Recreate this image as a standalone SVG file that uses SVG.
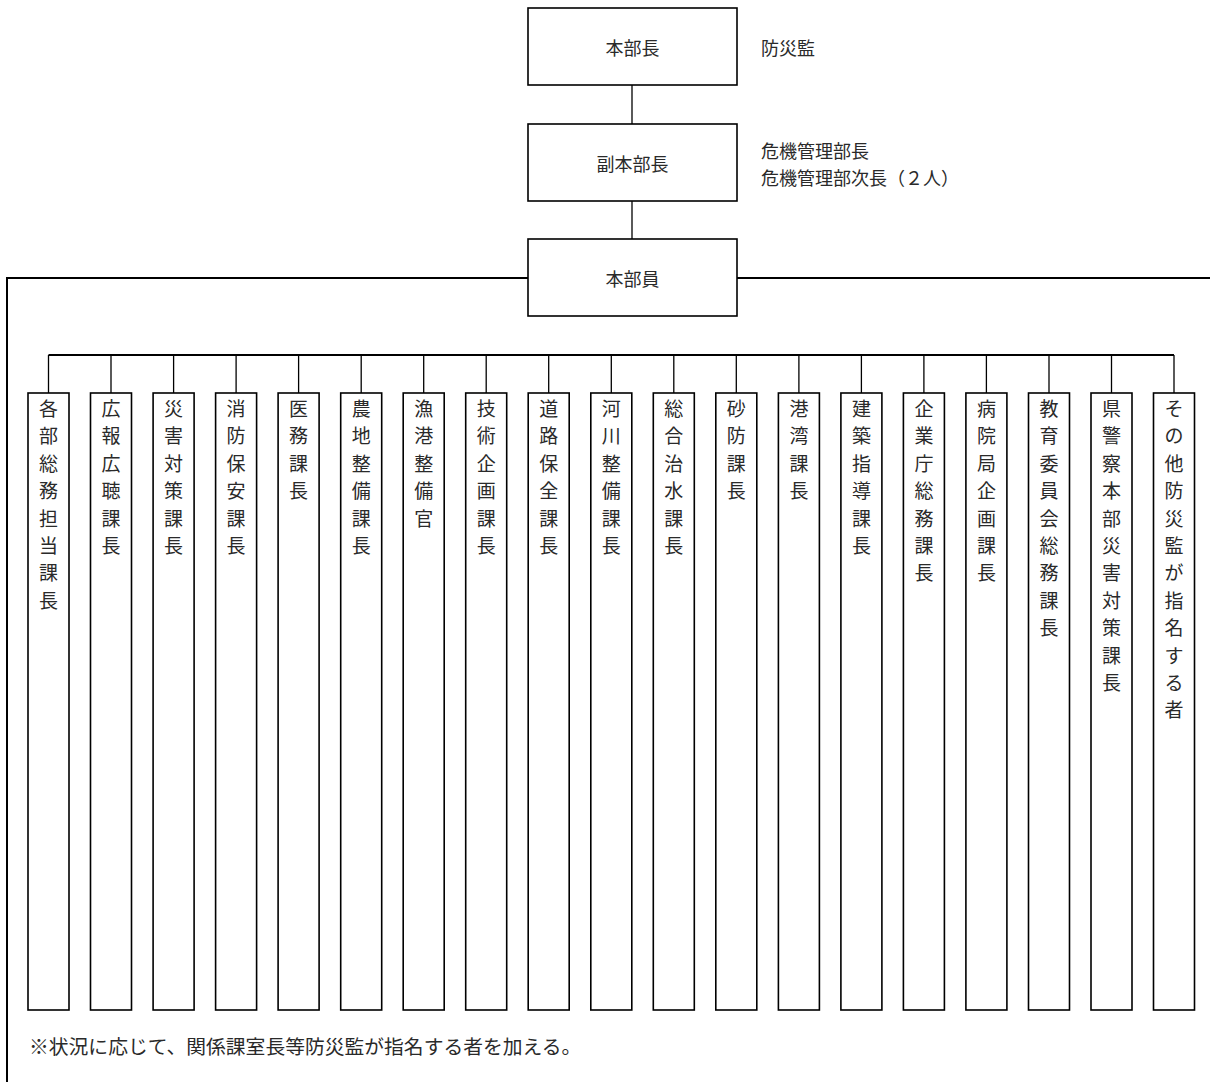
<svg xmlns="http://www.w3.org/2000/svg" width="1210" height="1082" viewBox="0 0 1210 1082">
<style>
text{font-family:"Noto Sans CJK JP","Noto Sans CJK SC",sans-serif;fill:#2a2a2a;}
.lbl{font-size:18px;text-anchor:middle;dominant-baseline:central;}
.side{font-size:18px;dominant-baseline:central;}
.col{font-size:19px;text-anchor:middle;dominant-baseline:central;}
.note{font-size:19.8px;dominant-baseline:central;}
.box{fill:#fff;stroke:#000;stroke-width:1.6;}
.ln{stroke:#000;stroke-width:1.3;fill:none;}
.lnb{stroke:#000;stroke-width:2;fill:none;}
</style>
<rect width="1210" height="1082" fill="#fff"/>
<g id="connectors">
<line class="ln" x1="632" y1="85" x2="632" y2="124"/>
<line class="ln" x1="632" y1="201" x2="632" y2="239"/>
<polyline class="lnb" points="528,278 7,278 7,1082"/>
<line class="lnb" x1="737" y1="278" x2="1210" y2="278"/>
<line class="lnb" x1="48.5" y1="355" x2="1174" y2="355"/>
<g class="ln">
<line x1="48.5" y1="355" x2="48.5" y2="393"/>
<line x1="111" y1="355" x2="111" y2="393"/>
<line x1="173.6" y1="355" x2="173.6" y2="393"/>
<line x1="236.1" y1="355" x2="236.1" y2="393"/>
<line x1="298.6" y1="355" x2="298.6" y2="393"/>
<line x1="361.2" y1="355" x2="361.2" y2="393"/>
<line x1="423.7" y1="355" x2="423.7" y2="393"/>
<line x1="486.2" y1="355" x2="486.2" y2="393"/>
<line x1="548.7" y1="355" x2="548.7" y2="393"/>
<line x1="611.3" y1="355" x2="611.3" y2="393"/>
<line x1="673.8" y1="355" x2="673.8" y2="393"/>
<line x1="736.3" y1="355" x2="736.3" y2="393"/>
<line x1="798.9" y1="355" x2="798.9" y2="393"/>
<line x1="861.4" y1="355" x2="861.4" y2="393"/>
<line x1="923.9" y1="355" x2="923.9" y2="393"/>
<line x1="986.4" y1="355" x2="986.4" y2="393"/>
<line x1="1049" y1="355" x2="1049" y2="393"/>
<line x1="1111.5" y1="355" x2="1111.5" y2="393"/>
<line x1="1174" y1="355" x2="1174" y2="393"/>
</g>
</g>
<g id="n-honbucho"><rect class="box" x="528" y="8" width="209" height="77"/><text class="lbl" x="632.5" y="47">本部長</text></g>
<text class="side" x="761" y="47">防災監</text>
<g id="n-fukuhonbucho"><rect class="box" x="528" y="124" width="209" height="77"/><text class="lbl" x="632.5" y="163">副本部長</text></g>
<text class="side" x="761" y="150">危機管理部長</text>
<text class="side" x="761" y="177">危機管理部次長（２人）</text>
<g id="n-honbuin"><rect class="box" x="528" y="239" width="209" height="77"/><text class="lbl" x="632.5" y="278">本部員</text></g>
<g id="c1"><rect class="box" x="28" y="393" width="41" height="617"/><text class="col"><tspan x="48.5" y="407">各</tspan><tspan x="48.5" dy="27.4">部</tspan><tspan x="48.5" dy="27.4">総</tspan><tspan x="48.5" dy="27.4">務</tspan><tspan x="48.5" dy="27.4">担</tspan><tspan x="48.5" dy="27.4">当</tspan><tspan x="48.5" dy="27.4">課</tspan><tspan x="48.5" dy="27.4">長</tspan></text></g>
<g id="c2"><rect class="box" x="90.5" y="393" width="41" height="617"/><text class="col"><tspan x="111" y="407">広</tspan><tspan x="111" dy="27.4">報</tspan><tspan x="111" dy="27.4">広</tspan><tspan x="111" dy="27.4">聴</tspan><tspan x="111" dy="27.4">課</tspan><tspan x="111" dy="27.4">長</tspan></text></g>
<g id="c3"><rect class="box" x="153.1" y="393" width="41" height="617"/><text class="col"><tspan x="173.6" y="407">災</tspan><tspan x="173.6" dy="27.4">害</tspan><tspan x="173.6" dy="27.4">対</tspan><tspan x="173.6" dy="27.4">策</tspan><tspan x="173.6" dy="27.4">課</tspan><tspan x="173.6" dy="27.4">長</tspan></text></g>
<g id="c4"><rect class="box" x="215.6" y="393" width="41" height="617"/><text class="col"><tspan x="236.1" y="407">消</tspan><tspan x="236.1" dy="27.4">防</tspan><tspan x="236.1" dy="27.4">保</tspan><tspan x="236.1" dy="27.4">安</tspan><tspan x="236.1" dy="27.4">課</tspan><tspan x="236.1" dy="27.4">長</tspan></text></g>
<g id="c5"><rect class="box" x="278.1" y="393" width="41" height="617"/><text class="col"><tspan x="298.6" y="407">医</tspan><tspan x="298.6" dy="27.4">務</tspan><tspan x="298.6" dy="27.4">課</tspan><tspan x="298.6" dy="27.4">長</tspan></text></g>
<g id="c6"><rect class="box" x="340.7" y="393" width="41" height="617"/><text class="col"><tspan x="361.2" y="407">農</tspan><tspan x="361.2" dy="27.4">地</tspan><tspan x="361.2" dy="27.4">整</tspan><tspan x="361.2" dy="27.4">備</tspan><tspan x="361.2" dy="27.4">課</tspan><tspan x="361.2" dy="27.4">長</tspan></text></g>
<g id="c7"><rect class="box" x="403.2" y="393" width="41" height="617"/><text class="col"><tspan x="423.7" y="407">漁</tspan><tspan x="423.7" dy="27.4">港</tspan><tspan x="423.7" dy="27.4">整</tspan><tspan x="423.7" dy="27.4">備</tspan><tspan x="423.7" dy="27.4">官</tspan></text></g>
<g id="c8"><rect class="box" x="465.7" y="393" width="41" height="617"/><text class="col"><tspan x="486.2" y="407">技</tspan><tspan x="486.2" dy="27.4">術</tspan><tspan x="486.2" dy="27.4">企</tspan><tspan x="486.2" dy="27.4">画</tspan><tspan x="486.2" dy="27.4">課</tspan><tspan x="486.2" dy="27.4">長</tspan></text></g>
<g id="c9"><rect class="box" x="528.2" y="393" width="41" height="617"/><text class="col"><tspan x="548.7" y="407">道</tspan><tspan x="548.7" dy="27.4">路</tspan><tspan x="548.7" dy="27.4">保</tspan><tspan x="548.7" dy="27.4">全</tspan><tspan x="548.7" dy="27.4">課</tspan><tspan x="548.7" dy="27.4">長</tspan></text></g>
<g id="c10"><rect class="box" x="590.8" y="393" width="41" height="617"/><text class="col"><tspan x="611.3" y="407">河</tspan><tspan x="611.3" dy="27.4">川</tspan><tspan x="611.3" dy="27.4">整</tspan><tspan x="611.3" dy="27.4">備</tspan><tspan x="611.3" dy="27.4">課</tspan><tspan x="611.3" dy="27.4">長</tspan></text></g>
<g id="c11"><rect class="box" x="653.3" y="393" width="41" height="617"/><text class="col"><tspan x="673.8" y="407">総</tspan><tspan x="673.8" dy="27.4">合</tspan><tspan x="673.8" dy="27.4">治</tspan><tspan x="673.8" dy="27.4">水</tspan><tspan x="673.8" dy="27.4">課</tspan><tspan x="673.8" dy="27.4">長</tspan></text></g>
<g id="c12"><rect class="box" x="715.8" y="393" width="41" height="617"/><text class="col"><tspan x="736.3" y="407">砂</tspan><tspan x="736.3" dy="27.4">防</tspan><tspan x="736.3" dy="27.4">課</tspan><tspan x="736.3" dy="27.4">長</tspan></text></g>
<g id="c13"><rect class="box" x="778.4" y="393" width="41" height="617"/><text class="col"><tspan x="798.9" y="407">港</tspan><tspan x="798.9" dy="27.4">湾</tspan><tspan x="798.9" dy="27.4">課</tspan><tspan x="798.9" dy="27.4">長</tspan></text></g>
<g id="c14"><rect class="box" x="840.9" y="393" width="41" height="617"/><text class="col"><tspan x="861.4" y="407">建</tspan><tspan x="861.4" dy="27.4">築</tspan><tspan x="861.4" dy="27.4">指</tspan><tspan x="861.4" dy="27.4">導</tspan><tspan x="861.4" dy="27.4">課</tspan><tspan x="861.4" dy="27.4">長</tspan></text></g>
<g id="c15"><rect class="box" x="903.4" y="393" width="41" height="617"/><text class="col"><tspan x="923.9" y="407">企</tspan><tspan x="923.9" dy="27.4">業</tspan><tspan x="923.9" dy="27.4">庁</tspan><tspan x="923.9" dy="27.4">総</tspan><tspan x="923.9" dy="27.4">務</tspan><tspan x="923.9" dy="27.4">課</tspan><tspan x="923.9" dy="27.4">長</tspan></text></g>
<g id="c16"><rect class="box" x="965.9" y="393" width="41" height="617"/><text class="col"><tspan x="986.4" y="407">病</tspan><tspan x="986.4" dy="27.4">院</tspan><tspan x="986.4" dy="27.4">局</tspan><tspan x="986.4" dy="27.4">企</tspan><tspan x="986.4" dy="27.4">画</tspan><tspan x="986.4" dy="27.4">課</tspan><tspan x="986.4" dy="27.4">長</tspan></text></g>
<g id="c17"><rect class="box" x="1028.5" y="393" width="41" height="617"/><text class="col"><tspan x="1049" y="407">教</tspan><tspan x="1049" dy="27.4">育</tspan><tspan x="1049" dy="27.4">委</tspan><tspan x="1049" dy="27.4">員</tspan><tspan x="1049" dy="27.4">会</tspan><tspan x="1049" dy="27.4">総</tspan><tspan x="1049" dy="27.4">務</tspan><tspan x="1049" dy="27.4">課</tspan><tspan x="1049" dy="27.4">長</tspan></text></g>
<g id="c18"><rect class="box" x="1091" y="393" width="41" height="617"/><text class="col"><tspan x="1111.5" y="407">県</tspan><tspan x="1111.5" dy="27.4">警</tspan><tspan x="1111.5" dy="27.4">察</tspan><tspan x="1111.5" dy="27.4">本</tspan><tspan x="1111.5" dy="27.4">部</tspan><tspan x="1111.5" dy="27.4">災</tspan><tspan x="1111.5" dy="27.4">害</tspan><tspan x="1111.5" dy="27.4">対</tspan><tspan x="1111.5" dy="27.4">策</tspan><tspan x="1111.5" dy="27.4">課</tspan><tspan x="1111.5" dy="27.4">長</tspan></text></g>
<g id="c19"><rect class="box" x="1153.5" y="393" width="41" height="617"/><text class="col"><tspan x="1174" y="407">そ</tspan><tspan x="1174" dy="27.4">の</tspan><tspan x="1174" dy="27.4">他</tspan><tspan x="1174" dy="27.4">防</tspan><tspan x="1174" dy="27.4">災</tspan><tspan x="1174" dy="27.4">監</tspan><tspan x="1174" dy="27.4">が</tspan><tspan x="1174" dy="27.4">指</tspan><tspan x="1174" dy="27.4">名</tspan><tspan x="1174" dy="27.4">す</tspan><tspan x="1174" dy="27.4">る</tspan><tspan x="1174" dy="27.4">者</tspan></text></g>
<text class="note" x="29" y="1045">※状況に応じて、関係課室長等防災監が指名する者を加える。</text>
</svg>
